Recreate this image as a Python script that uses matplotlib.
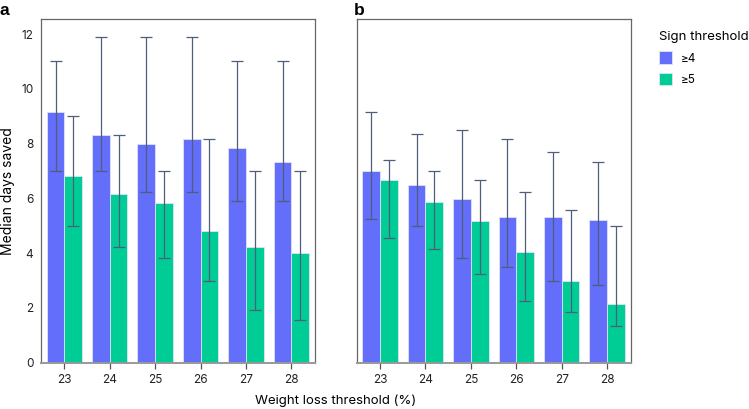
import matplotlib.pyplot as plt
import numpy as np

plt.rcParams['font.family'] = ['Inter', 'DejaVu Sans']

# Weight loss threshold (%) categories
umbrais = [23, 24, 25, 26, 27, 28]
series = ['≥4', '≥5']

# Panel a: median days saved with error bar limits
a_med4 = [9.14, 8.31, 7.98, 8.16, 7.83, 7.32]
a_lo4 = [7.0, 7.0, 6.22, 6.22, 5.89, 5.89]
a_hi4 = [11.0, 11.9, 11.9, 11.9, 11.0, 11.0]
a_med5 = [6.83, 6.16, 5.82, 4.82, 4.21, 3.99]
a_lo5 = [5.0, 4.24, 3.83, 3.0, 1.91, 1.57]
a_hi5 = [9.0, 8.33, 7.0, 8.16, 7.0, 7.0]

# Panel b
b_med4 = [7.0, 6.49, 5.98, 5.32, 5.32, 5.22]
b_lo4 = [5.24, 5.0, 3.83, 3.5, 3.0, 2.83]
b_hi4 = [9.16, 8.34, 8.51, 8.17, 7.68, 7.34]
b_med5 = [6.66, 5.88, 5.16, 4.05, 2.99, 2.15]
b_lo5 = [4.56, 4.16, 3.24, 2.24, 1.84, 1.33]
b_hi5 = [7.40, 7.0, 6.66, 6.23, 5.56, 5.0]

cores = ['#636EFA', '#00CC96']
cor_erro = '#4f5e7a'

fig = plt.figure(figsize=(7.49, 4.09), dpi=100)
ax_a = fig.add_axes([0.0547, 0.1132, 0.3659, 0.8403])
ax_b = fig.add_axes([0.4762, 0.1132, 0.3659, 0.8403])

x = np.arange(len(umbrais))
larg = 0.39

paineis = [
    (ax_a, a_med4, a_lo4, a_hi4, a_med5, a_lo5, a_hi5),
    (ax_b, b_med4, b_lo4, b_hi4, b_med5, b_lo5, b_hi5),
]

for ax, m4, l4, h4, m5, l5, h5 in paineis:
    for k, (m, lo, hi) in enumerate([(m4, l4, h4), (m5, l5, h5)]):
        m = np.array(m)
        pos = x + (k - 0.5) * larg
        ax.bar(pos, m, width=larg, color=cores[k], edgecolor='#dfe2fb',
               linewidth=0.6, label=series[k], zorder=2)
        yerr = [m - np.array(lo), np.array(hi) - m]
        ax.errorbar(pos, m, yerr=yerr, fmt='none', ecolor=cor_erro,
                    elinewidth=0.9, capsize=4.6, capthick=0.9, zorder=3)
    ax.set_xlim(-0.515, 5.52)
    ax.set_ylim(0, 12.55)
    ax.set_xticks(x)
    ax.set_xticklabels(umbrais, fontsize=8.5, color='#222222')
    for s in ['left', 'top', 'right']:
        ax.spines[s].set_color('#666666')
        ax.spines[s].set_linewidth(0.9)
    ax.spines['bottom'].set_color('#999999')
    ax.spines['bottom'].set_linewidth(1.4)
    ax.tick_params(axis='x', length=4, width=0.9, color='#555555', pad=4)

ax_a.set_yticks([0, 2, 4, 6, 8, 10, 12])
ax_a.tick_params(axis='y', length=0, labelsize=8.5, labelcolor='#222222', pad=5.5)
ax_b.set_yticks([])

fig.text(0.002, 0.533, 'Median days saved', fontsize=10, rotation=90,
         ha='left', va='center')
fig.text(0.4486, 0.004, 'Weight loss threshold (%)', fontsize=9.5,
         ha='center', va='bottom')

fig.text(0.0, 0.993, 'a', fontsize=12.5, fontweight='bold', va='top',
         family=['Liberation Sans', 'DejaVu Sans'])
fig.text(0.472, 0.993, 'b', fontsize=12.5, fontweight='bold', va='top',
         family=['Liberation Sans', 'DejaVu Sans'])

leg = ax_b.legend(loc='upper left', bbox_to_anchor=(1.085, 0.98), frameon=False,
                  title='Sign threshold', fontsize=8.5, title_fontsize=9.5,
                  handlelength=1.1, handleheight=1.2, handletextpad=0.8,
                  labelspacing=0.75, alignment='left', borderaxespad=0)

fig.savefig('out.png', dpi=100)
